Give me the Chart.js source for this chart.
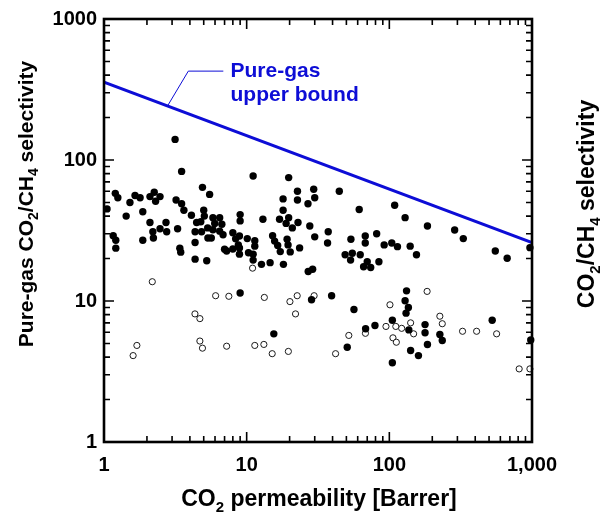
<!DOCTYPE html>
<html>
<head>
<meta charset="utf-8">
<script src="https://cdn.jsdelivr.net/npm/chart.js@4.4.1/dist/chart.umd.min.js"></script>
<style>
  html, body { margin: 0; padding: 0; background: #fff; }
  #wrap { width: 602px; height: 514px; }
</style>
</head>
<body>
<div id="wrap"><canvas id="selChart" width="602" height="514"></canvas></div>
<script>
// filled symbols
const filledX = [1.05, 1.2, 1.25, 1.16, 1.21, 1.21, 1.43, 1.52, 1.65, 1.79, 1.87, 1.87, 2.1, 2.25, 2.3, 2.47, 2.1, 2.2, 2.47, 2.72, 2.75, 2.22,
  3.15, 3.5, 3.2, 3.5, 3.63, 3.28, 3.4, 3.45, 4.1, 4.46, 4.9, 5.5, 5.0, 5.05, 4.77, 4.35, 4.35, 4.83, 5.33,
  5.8, 6.47, 5.97, 6.7, 5.8, 6.47, 5.65, 6.83, 5.35, 8.0, 9.0, 9.0, 8.37, 8.74, 8.9, 7.0, 8.0, 8.9, 8.9, 7.24, 4.35, 5.25, 9.0,
  11.1, 19.7, 10.1, 11.4, 13.0, 17.0, 18.0, 18.0, 22.7, 22.7, 18.9, 19.7, 20.9, 22.9, 27.7, 30, 15.2, 15.7, 16.5, 19.2, 19.5,
  10.3, 11.4, 23.5, 17.2, 20.2, 29.5, 30, 26.9, 11.1, 11.1, 12.7, 14.6, 18.1, 27, 29, 28.5, 15.5,
  44.6, 61.5, 37.3, 36.9, 53.8, 67.8, 67.8, 81.5, 92, 49, 55, 62.5, 53.5, 70, 66, 74, 84.5, 39.4, 56.5, 68.2, 79.3, 50.7,
  109, 129, 185, 104, 114, 140, 155, 287, 330, 553, 967, 670, 105, 105, 132, 129, 136, 131, 137, 141, 160, 178, 178, 185, 226, 235, 526, 980];
const filledY = [45, 58, 54, 29, 27, 23.7, 40, 50, 56, 54, 43, 27, 55, 59, 51, 55, 36, 31, 32.5, 36, 31, 28,
  140, 83, 52, 49, 44, 32.5, 23.7, 22.2, 40.6, 36, 64, 57, 44, 40, 36.5, 31, 26, 31, 33,
  38.9, 38.9, 35.5, 35, 32, 31.3, 28, 29.5, 28, 30.5, 41, 37, 27.6, 25, 28.9, 23.3, 23.4, 23.8, 21.5, 22.6, 19.8, 19.3, 11.4,
  77, 75, 27.7, 26.8, 38, 38, 44, 53, 60, 52, 35.5, 39, 33, 36, 34, 28.5, 29, 26.6, 24.8, 27.4, 25,
  22, 24.5, 23.8, 22.4, 22.3, 62, 54, 49, 21.5, 19.5, 18.2, 18.7, 18.2, 16.2, 16.8, 10.2, 5.85,
  60, 44.6, 31, 25.8, 27.4, 28.9, 25.8, 30, 25, 21.3, 21.8, 21.3, 19.5, 19, 17.5, 17.3, 19, 10.9, 8.7, 6.35, 6.7, 4.7,
  47.8, 39, 34, 25.8, 24.3, 24.5, 21.3, 31.9, 27.7, 22.6, 23.9, 20.1, 7.3, 3.65, 11.8, 10.05, 9.0, 8.2, 6.24, 4.46, 4.1, 6.8, 5.95, 4.92, 5.78, 5.25, 7.3, 5.3];

// open symbols
const openX = [1.6, 1.7, 2.18, 4.34, 4.7, 4.7, 4.9, 6.06, 7.5, 7.24, 11, 11.4, 13.2, 13.3, 15.1, 19.6, 20.1, 22, 22.6, 29.7,
  42, 52, 68, 94.7, 101, 111, 122, 106, 112, 141, 148, 184, 226, 235, 326, 409, 565, 813, 967];
const openY = [4.1, 4.84, 13.7, 8.1, 7.5, 5.2, 4.63, 10.9, 10.8, 4.78, 17.1, 4.84, 4.92, 10.6, 4.23, 4.39, 9.9, 8.1, 10.9, 10.9,
  4.23, 5.7, 5.9, 6.6, 9.4, 6.6, 6.4, 5.48, 5.1, 7.0, 5.85, 11.7, 7.8, 6.9, 6.1, 6.1, 5.85, 3.3, 3.3];

// upper bound end points
const boundX = [1, 1000];
const boundY = [357, 26];

const xTickValues = [1, 10, 100, 1000];
const xTickLabels = ['1', '10', '100', '1,000'];
const yTickValues = [1, 10, 100, 1000];
const yTickLabels = ['1', '10', '100', '1000'];

const FONT = '"Liberation Sans", Arial, sans-serif';
const BLUE = '#0d0dd6';

const toPoints = (xs, ys) => xs.map((v, i) => ({ x: v, y: ys[i] }));

// text with subscripts, centred on (cx, cy)
function richText(ctx, parts, cx, cy, angle, size) {
  const big = 'bold ' + size + 'px ' + FONT;
  const small = 'bold ' + Math.round(size * 0.66) + 'px ' + FONT;
  ctx.save();
  ctx.translate(cx, cy);
  ctx.rotate(angle);
  ctx.fillStyle = '#000';
  ctx.textBaseline = 'middle';
  ctx.textAlign = 'left';
  let w = 0;
  parts.forEach(p => { ctx.font = p[1] ? small : big; w += ctx.measureText(p[0]).width; });
  let px = -w / 2;
  parts.forEach(p => {
    ctx.font = p[1] ? small : big;
    ctx.fillText(p[0], px, p[1] ? size * 0.32 : 0);
    px += ctx.measureText(p[0]).width;
  });
  ctx.restore();
}

// inward ticks on all four sides plus the box
const frame = {
  id: 'frame',
  afterDraw(chart) {
    const { ctx, chartArea: a, scales: { x, y } } = chart;
    ctx.save();
    ctx.strokeStyle = '#000';
    ctx.lineWidth = 1.6;
    ctx.beginPath();
    [1, 10, 100].forEach(d => {
      for (let m = 1; m <= 10; m++) {
        const v = d * m;
        const len = (m === 1 || m === 10) ? 10 : 6;
        const px = x.getPixelForValue(v);
        ctx.moveTo(px, a.bottom); ctx.lineTo(px, a.bottom - len);
        ctx.moveTo(px, a.top); ctx.lineTo(px, a.top + len);
        const py = y.getPixelForValue(v);
        ctx.moveTo(a.left, py); ctx.lineTo(a.left + len, py);
        ctx.moveTo(a.right, py); ctx.lineTo(a.right - len, py);
      }
    });
    ctx.stroke();
    ctx.lineWidth = 2.6;
    ctx.strokeRect(a.left, a.top, a.right - a.left, a.bottom - a.top);
    ctx.restore();

    richText(ctx, [['CO', false], ['2', true], [' permeability [Barrer]', false]], 319, 500, 0, 23);
    richText(ctx, [['Pure-gas CO', false], ['2', true], ['/CH', false], ['4', true], [' selectivity', false]], 27, 204, -Math.PI / 2, 21);
    richText(ctx, [['CO', false], ['2', true], ['/CH', false], ['4', true], [' selectivity', false]], 588, 204, -Math.PI / 2, 23);
  }
};

// label for the upper bound line
const boundNote = {
  id: 'boundNote',
  afterDatasetsDraw(chart) {
    const { ctx, scales: { x, y } } = chart;
    const leader = [[2.81, 245], [3.9, 427], [6.86, 427]];
    ctx.save();
    ctx.strokeStyle = BLUE;
    ctx.lineWidth = 1;
    ctx.beginPath();
    leader.forEach((p, i) => {
      const px = x.getPixelForValue(p[0]), py = y.getPixelForValue(p[1]);
      if (i === 0) ctx.moveTo(px, py); else ctx.lineTo(px, py);
    });
    ctx.stroke();
    ctx.fillStyle = BLUE;
    ctx.font = 'bold 21px ' + FONT;
    ctx.textBaseline = 'middle';
    ctx.fillText('Pure-gas', x.getPixelForValue(7.7), y.getPixelForValue(429));
    ctx.fillText('upper bound', x.getPixelForValue(7.7), y.getPixelForValue(286));
    ctx.restore();
  }
};

const ctx = document.getElementById('selChart').getContext('2d');
const selChart = new Chart(ctx, {
  type: 'scatter',
  data: {
    datasets: [
      {
        type: 'line',
        data: toPoints(boundX, boundY),
        borderColor: BLUE,
        borderWidth: 3,
        pointRadius: 0,
        fill: false
      },
      {
        data: toPoints(filledX, filledY),
        backgroundColor: '#000',
        borderColor: '#000',
        borderWidth: 0,
        pointRadius: 3.7,
        clip: false
      },
      {
        data: toPoints(openX, openY),
        backgroundColor: '#fff',
        borderColor: '#1a1a1a',
        borderWidth: 1,
        pointRadius: 3.1,
        clip: false
      }
    ]
  },
  options: {
    responsive: false,
    animation: false,
    events: [],
    layout: { padding: { left: 0, right: 70, top: 17, bottom: 0 } },
    plugins: { legend: { display: false }, tooltip: { enabled: false } },
    scales: {
      x: {
        type: 'logarithmic',
        min: 1,
        max: 1000,
        grid: { display: false, drawTicks: false },
        border: { display: false },
        afterBuildTicks: s => { s.ticks = xTickValues.map(v => ({ value: v })); },
        afterFit: s => { s.height = 72; },
        ticks: {
          autoSkip: false,
          maxRotation: 0,
          padding: 11,
          color: '#000',
          font: { family: FONT, size: 20, weight: 'bold' },
          callback: v => xTickLabels[xTickValues.indexOf(v)]
        }
      },
      y: {
        type: 'logarithmic',
        min: 1,
        max: 1000,
        grid: { display: false, drawTicks: false },
        border: { display: false },
        afterBuildTicks: s => { s.ticks = yTickValues.map(v => ({ value: v })); },
        afterFit: s => { s.width = 104; },
        ticks: {
          autoSkip: false,
          padding: 7,
          color: '#000',
          font: { family: FONT, size: 20, weight: 'bold' },
          callback: v => yTickLabels[yTickValues.indexOf(v)]
        }
      }
    }
  },
  plugins: [boundNote, frame]
});
</script>
</body>
</html>
